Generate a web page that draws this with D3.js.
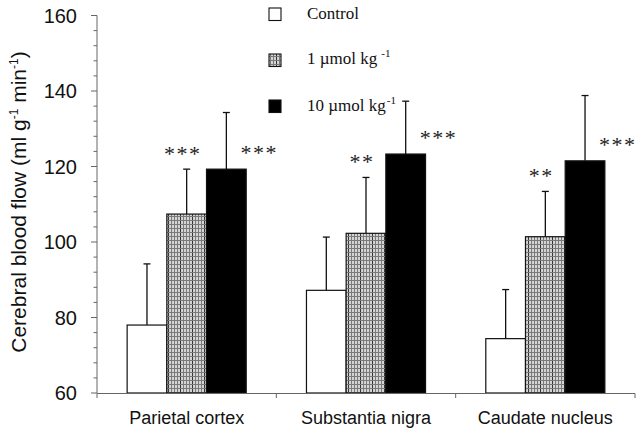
<!DOCTYPE html>
<html><head><meta charset="utf-8">
<script src="https://cdn.jsdelivr.net/npm/d3@7"></script>
<style>body{margin:0;background:#fff}</style>
</head><body><div id="chart"></div>
<script>
const categories = ["Parietal cortex", "Substantia nigra", "Caudate nucleus"];
const seriesNames = ["Control", "1 µmol kg", "10 µmol kg"];
const controlVals = [78, 87.2, 74.4];
const controlErr = [16.2, 14.1, 13];
const dose1Vals = [107.4, 102.3, 101.4];
const dose1Err = [11.9, 14.8, 12];
const dose10Vals = [119.3, 123.3, 121.5];
const dose10Err = [15, 14, 17.3];
const dose1Sig = ["***", "**", "**"];
const dose10Sig = ["***", "***", "***"];
const yTicks = [60, 80, 100, 120, 140, 160];

const W = 640, H = 429;
const svg = d3.select("#chart").append("svg").attr("width", W).attr("height", H);
const defs = svg.append("defs");
const pat = defs.append("pattern").attr("id", "grid").attr("patternUnits", "userSpaceOnUse")
  .attr("width", 12).attr("height", 4);
pat.append("rect").attr("width", 12).attr("height", 4).attr("fill", "#d4d4d4");
[0, 3, 6, 9].forEach(x => pat.append("line").attr("x1", x + 0.5).attr("x2", x + 0.5).attr("y1", 0).attr("y2", 4)
  .attr("stroke", x === 0 ? "#333" : "#7a7a7a").attr("stroke-width", 1));
pat.append("line").attr("x1", 0).attr("x2", 12).attr("y1", 0.5).attr("y2", 0.5).attr("stroke", "#7a7a7a").attr("stroke-width", 1);

const x0 = d3.scaleBand().domain(categories).range([97, 635]).paddingInner(0.336).paddingOuter(0.168);
const x1 = d3.scaleBand().domain([0, 1, 2]).range([0, x0.bandwidth()]);
const y = d3.scaleLinear().domain([60, 160]).range([393, 15.5]);

const fills = ["#fff", "url(#grid)", "#000"];
const vals = [controlVals, dose1Vals, dose10Vals];
const errs = [controlErr, dose1Err, dose10Err];

const data = [];
categories.forEach((c, i) => vals.forEach((v, s) => data.push({c, s, v: v[i], e: errs[s][i]})));

// error bars first (behind bars)
const eb = svg.append("g").attr("stroke", "#111").attr("stroke-width", 1.3);
data.forEach(d => {
  const cx = x0(d.c) + x1(d.s) + x1.bandwidth() / 2;
  eb.append("line").attr("x1", cx).attr("x2", cx).attr("y1", y(d.v)).attr("y2", y(d.v + d.e));
  eb.append("line").attr("x1", cx - 3.5).attr("x2", cx + 3.5).attr("y1", y(d.v + d.e)).attr("y2", y(d.v + d.e));
});

svg.append("g").selectAll("rect").data(data).join("rect")
  .attr("x", d => x0(d.c) + x1(d.s))
  .attr("y", d => y(d.v))
  .attr("width", x1.bandwidth())
  .attr("height", d => y(60) - y(d.v))
  .attr("fill", d => fills[d.s])
  .attr("stroke", "#111").attr("stroke-width", 1.2);

// y axis
const yAxis = svg.append("g").attr("transform", "translate(97,0)");
yAxis.append("line").attr("x1", 0).attr("x2", 0).attr("y1", y(160)).attr("y2", y(60)).attr("stroke", "#666");
d3.range(60, 161, 4).forEach(t => {
  const major = t % 20 === 0;
  yAxis.append("line").attr("x1", major ? -6 : -3.5).attr("x2", 0).attr("y1", y(t)).attr("y2", y(t)).attr("stroke", "#666");
});
yAxis.selectAll("text.tick").data(yTicks).join("text").attr("class", "tick")
  .attr("x", -20).attr("y", d => y(d)).attr("dy", "0.36em").attr("text-anchor", "end")
  .attr("font-family", "Liberation Sans, Arial, sans-serif").attr("font-size", 20).attr("fill", "#111")
  .text(d => d);

// x axis
const xAxis = svg.append("g");
xAxis.append("line").attr("x1", 97).attr("x2", 635).attr("y1", 393.5).attr("y2", 393.5).attr("stroke", "#666");
[97, ...categories.map(c => x0(c) + x0.bandwidth() + x0.step() * 0.336 / 2)].forEach(px => {
  xAxis.append("line").attr("x1", px).attr("x2", px).attr("y1", 393.5).attr("y2", 398).attr("stroke", "#666");
});
xAxis.selectAll("text").data(categories).join("text")
  .attr("x", d => x0(d) + x0.bandwidth() / 2).attr("y", 424).attr("text-anchor", "middle")
  .attr("font-family", "Liberation Sans, Arial, sans-serif").attr("font-size", 18).attr("fill", "#111")
  .text(d => d);

// y title
const yt = svg.append("text").attr("transform", "translate(25.5,202) rotate(-90)").attr("text-anchor", "middle")
  .attr("font-family", "Liberation Sans, Arial, sans-serif").attr("font-size", 21).attr("fill", "#111");
yt.append("tspan").text("Cerebral blood flow (ml g");
yt.append("tspan").attr("font-size", 12).attr("dy", -8).text("-1");
yt.append("tspan").attr("dy", 8).text(" min");
yt.append("tspan").attr("font-size", 12).attr("dy", -8).text("-1");
yt.append("tspan").attr("dy", 8).text(")");

// significance
const sig = svg.append("g").attr("font-family", "Liberation Serif, Times New Roman, serif").attr("font-size", 22)
  .attr("fill", "#222").attr("text-anchor", "middle").attr("letter-spacing", 1.5);
categories.forEach((c, i) => {
  const cx1 = x0(c) + x1(1) + x1.bandwidth() / 2 - 4;
  sig.append("text").attr("x", cx1).attr("y", y(dose1Vals[i] + dose1Err[i]) - 8).text(dose1Sig[i]);
  const cx2 = x0(c) + x1(2) + x1.bandwidth() + 13;
  sig.append("text").attr("x", cx2).attr("y", y(dose10Vals[i]) - 9).text(dose10Sig[i]);
});

// legend
const lg = svg.append("g").attr("font-family", "Liberation Serif, Times New Roman, serif").attr("font-size", 17).attr("fill", "#111");
const ly = [8, 54, 100];
const lb = [19, 64, 111];
seriesNames.forEach((n, s) => {
  lg.append("rect").attr("x", 269).attr("y", ly[s]).attr("width", 12).attr("height", 12.5)
    .attr("fill", fills[s]).attr("stroke", "#111").attr("stroke-width", 1.1);
  const t = lg.append("text").attr("x", 307).attr("y", lb[s]);
  t.append("tspan").text(n);
  if (s > 0) t.append("tspan").attr("font-size", 11).attr("dy", -7).attr("dx", s === 1 ? 4 : 1).text("-1");
});
</script></body></html>
